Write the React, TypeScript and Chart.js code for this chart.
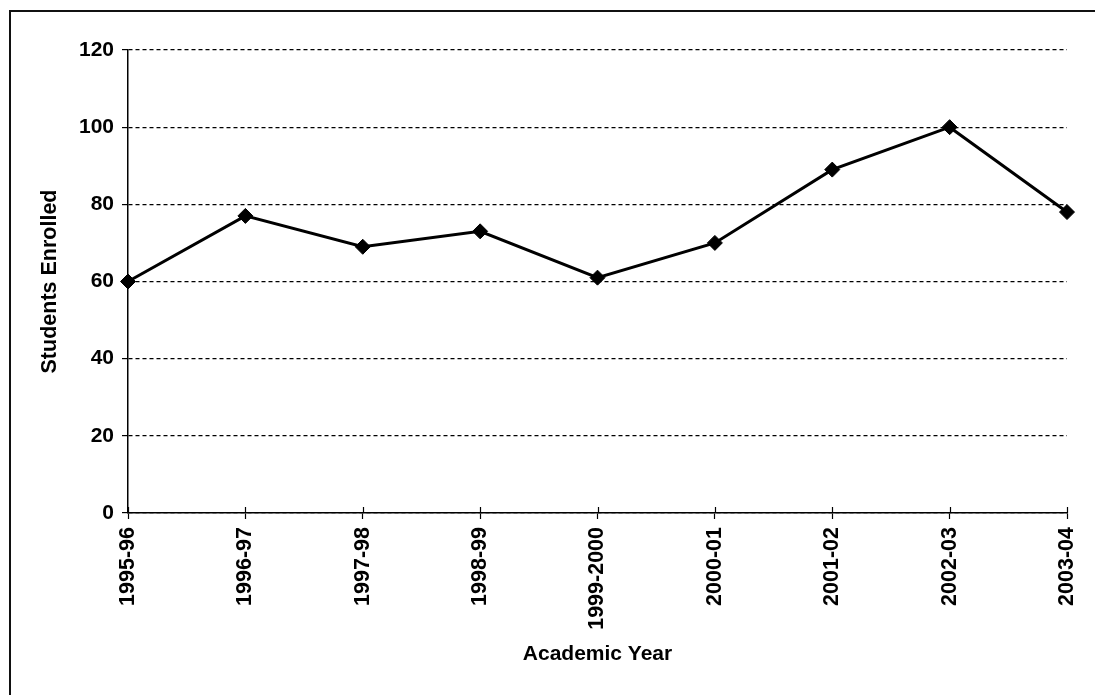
import React, { useEffect, useRef } from "react";
import { Chart, registerables } from "chart.js";

Chart.register(...registerables);

const academicYears = [
  "1995-96",
  "1996-97",
  "1997-98",
  "1998-99",
  "1999-2000",
  "2000-01",
  "2001-02",
  "2002-03",
  "2003-04",
];

const studentsEnrolled = [60, 77, 69, 73, 61, 70, 89, 100, 78];

const yTickMin = 0;
const yTickMax = 120;
const yTickStep = 20;

const W = 1095;
const H = 695;
const FONT = "'Liberation Sans', Arial, sans-serif";

// small tick marks that cross the category axis on the inside
const innerTicks = {
  id: "innerTicks",
  afterDatasetsDraw(chart: any) {
    const x = chart.scales.x;
    const ctx = chart.ctx;
    ctx.save();
    ctx.strokeStyle = "#000";
    ctx.lineWidth = 1.2;
    ctx.beginPath();
    for (let i = 0; i < x.ticks.length; i++) {
      const px = Math.round(x.getPixelForTick(i)) + 0.5;
      ctx.moveTo(px, x.top - 6);
      ctx.lineTo(px, x.top);
    }
    ctx.stroke();
    ctx.restore();
  },
};

export default function App() {
  const canvasRef = useRef<HTMLCanvasElement | null>(null);

  useEffect(() => {
    if (!canvasRef.current) return;
    const chart = new Chart(canvasRef.current, {
      type: "line",
      data: {
        labels: academicYears,
        datasets: [
          {
            data: studentsEnrolled,
            borderColor: "#000",
            backgroundColor: "#000",
            borderWidth: 3,
            pointStyle: "rectRot",
            pointRadius: 7.5,
            pointBorderWidth: 1,
            pointBackgroundColor: "#000",
            pointBorderColor: "#000",
            tension: 0,
            clip: false as any,
          },
        ],
      },
      options: {
        responsive: false,
        animation: false,
        layout: { padding: { top: 50, right: 28, left: 0, bottom: 0 } },
        plugins: {
          legend: { display: false },
          tooltip: { enabled: false },
        },
        scales: {
          x: {
            offset: false,
            grid: {
              drawOnChartArea: false,
              drawTicks: true,
              tickLength: 6,
              tickColor: "#000",
              tickWidth: 1.2,
            },
            border: { display: true, color: "#000", width: 1.5 },
            ticks: {
              autoSkip: false,
              maxRotation: 90,
              minRotation: 90,
              padding: 8,
              color: "#000",
              font: { family: FONT, size: 21.5, weight: "bold" },
            },
            title: {
              display: true,
              text: "Academic Year",
              color: "#000",
              font: { family: FONT, size: 21, weight: "bold" },
              padding: { top: 0, bottom: 28 },
            },
            afterFit(scale: any) {
              scale.height = H - 513;
              scale.paddingLeft = 0;
              scale.paddingRight = 0;
            },
          },
          y: {
            min: yTickMin,
            max: yTickMax,
            grid: {
              color: "#000",
              lineWidth: 1.2,
              tickLength: 6,
              tickColor: "#000",
              tickWidth: 1.2,
              tickBorderDash: [],
            } as any,
            border: { display: true, color: "#000", width: 1.5, dash: [4, 3] },
            ticks: {
              stepSize: yTickStep,
              padding: 8,
              color: "#000",
              font: { family: FONT, size: 21, weight: "bold" },
            },
            title: {
              display: true,
              text: "Students Enrolled",
              color: "#000",
              font: { family: FONT, size: 21.5, weight: "bold" },
              padding: { top: 37, bottom: 0 },
            },
            afterFit(scale: any) {
              scale.width = 128;
            },
          },
        },
      },
      plugins: [innerTicks],
    });
    return () => chart.destroy();
  }, []);

  return (
    <div
      style={{
        position: "absolute",
        left: 0,
        top: 0,
        width: W,
        height: H,
        background: "#fff",
        overflow: "hidden",
      }}
    >
      <canvas ref={canvasRef} width={W} height={H} style={{ display: "block" }} />
      <div
        style={{
          position: "absolute",
          left: 9,
          top: 10,
          width: W,
          height: H,
          borderLeft: "2px solid #111",
          borderTop: "2px solid #111",
          pointerEvents: "none",
        }}
      />
    </div>
  );
}
